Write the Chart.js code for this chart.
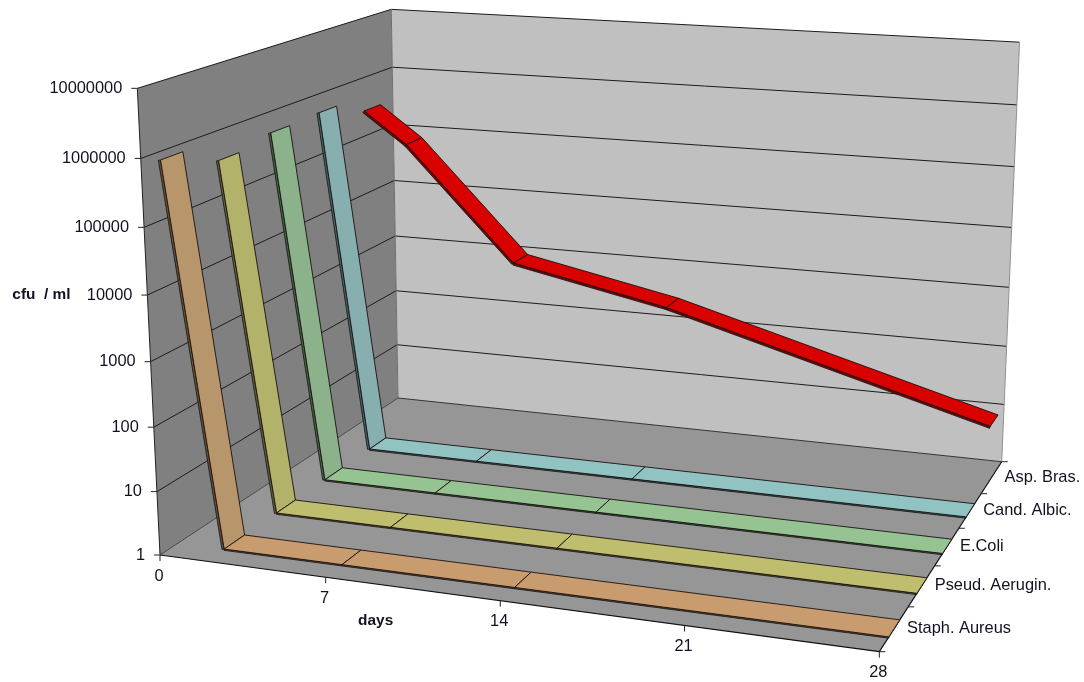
<!DOCTYPE html>
<html><head><meta charset="utf-8">
<style>html,body{margin:0;padding:0;background:#fff}canvas{display:block}</style>
<script src="https://cdn.jsdelivr.net/npm/chart.js@4"></script>
</head><body><canvas id="c" width="1084" height="682"></canvas>
<script>
const days = [0, 2, 7, 14, 28];
const staphAureus = [750000, 1, 1, 1, 1];
const pseudAerugin = [350000, 1, 1, 1, 1];
const eColi = [460000, 1, 1, 1, 1];
const candAlbic = [490000, 1, 1, 1, 1];
const aspBras = [270000, 80000, 1000, 290, 9.3];
const seriesNames = ['Staph. Aureus', 'Pseud. Aerugin.', 'E.Coli', 'Cand. Albic.', 'Asp. Bras.'];
const dayTicks = [0, 7, 14, 21, 28];
const valueTicks = [1, 10, 100, 1000, 10000, 100000, 1000000, 10000000];
const seriesValues = [staphAureus, pseudAerugin, eColi, candAlbic, aspBras];
const flatColors = ['#c89c6e', '#bebe6e', '#96c392', '#92c3c3', '#d90000'];
const dropColors = ['#b8966c', '#b2b26a', '#8cb28c', '#88afaf', '#d90000'];
const faceColors = ['#6a5238', '#62623a', '#456645', '#456666', '#7a0000'];

// perspective camera of the 3-D box: unit cube -> page pixels
const O = [160, 555], AX = [629.2, 29.9], AY = [-30.5, -471.7], AZ = [322.5, -72.5];
const P = -0.1025, Q = -0.057, R = 0.2123, KX = -7.4, KY = 3.5;
function proj(t, v, z) {
  const d = 1 + P * t + Q * v + R * z;
  return {
    x: (O[0] + AX[0] * t + AY[0] * v + AZ[0] * z) / d + KX * t * v * z,
    y: (O[1] + AX[1] * t + AY[1] * v + AZ[1] * z) / d + KY * t * v * z
  };
}
const T = d => d / 28;
const V = val => Math.log10(val) / 7;

const datasets = [];
function poly(points, fill, stroke, width) {
  const closed = fill ? points.concat([points[0]]) : points;
  datasets.push({
    data: closed, showLine: true, pointRadius: 0, pointHoverRadius: 0,
    fill: fill ? 'shape' : false, backgroundColor: fill || 'transparent',
    borderColor: stroke || 'transparent', borderWidth: stroke ? (width || 1) : 0,
    borderDash: [5000, 0], borderJoinStyle: 'round', clip: false
  });
}
// walls and floor
poly([proj(0,0,0), proj(0,1,0), proj(0,1,1), proj(0,0,1)], '#808080');
poly([proj(0,0,1), proj(0,1,1), proj(1,1,1), proj(1,0,1)], '#c0c0c0');
poly([proj(0,0,0), proj(0,0,1), proj(1,0,1), proj(1,0,0)], '#969696');
// wall gridlines
valueTicks.forEach((val, i) => {
  if (i === 0) return;
  poly([proj(0,V(val),0), proj(0,V(val),1), proj(1,V(val),1)], null, '#1c1c1c', 1);
});
// box edges
poly([proj(0,0,1), proj(0,1,1)], null, '#6e6e6e', 1);
poly([proj(1,0,1), proj(1,1,1)], null, '#909090', 1);
poly([proj(0,0,1), proj(1,0,1)], null, '#333', 1);
poly([proj(0,0,0), proj(0,0,1)], null, '#444', 1);
poly([proj(0,0,0), proj(1,0,0)], null, '#111', 1.2);
poly([proj(1,0,0), proj(1,0,1)], null, '#111', 1.2);
poly([proj(0,0,0), proj(0,1,0)], null, '#222', 1);
// axis ticks
valueTicks.forEach(val => {
  const a = proj(0, V(val), 0);
  poly([a, {x: a.x - 6, y: a.y}], null, '#222', 1);
});
dayTicks.forEach(d => {
  const a = proj(T(d), 0, 0);
  poly([a, {x: a.x, y: a.y + 6}], null, '#222', 1);
});
seriesNames.concat(['']).forEach((n, i) => {
  const a = proj(1, 0, i / 5);
  poly([a, {x: a.x + 6, y: a.y}], null, '#222', 1);
});
// ribbons, back to front
for (let s = seriesValues.length - 1; s >= 0; s--) {
  const zf = (s + 0.32) / 5, zb = (s + 0.70) / 5, vals = seriesValues[s];
  for (let i = 0; i < days.length - 1; i++) {
    const t1 = T(days[i]), t2 = T(days[i + 1]), v1 = V(vals[i]), v2 = V(vals[i + 1]);
    const a = proj(t1, v1, zf), b = proj(t2, v2, zf);
    const len = Math.hypot(b.x - a.x, b.y - a.y);
    const th = (v1 === 0 && v2 === 0) ? 1.3 : 2.2;
    let nx = (b.y - a.y) / len, ny = -(b.x - a.x) / len;
    if (ny < 0) { nx = -nx; ny = -ny; }
    const off = p => ({x: p.x + nx * th, y: p.y + ny * th});
    poly([a, b, off(b), off(a)], faceColors[s], '#111', 0.8);
    poly([a, b, proj(t2, v2, zb), proj(t1, v1, zb)], i === 0 ? dropColors[s] : flatColors[s], '#1a1010', 0.9);
  }
}
datasets.forEach((d, i) => { d.order = datasets.length - i; });

const textPlugin = {
  id: 'boxText',
  afterDatasetsDraw(chart) {
    const ctx = chart.ctx, sx = chart.scales.x, sy = chart.scales.y;
    const put = (txt, p, dx, dy, align, font) => {
      ctx.font = font; ctx.textAlign = align; ctx.textBaseline = 'middle';
      ctx.fillStyle = '#111122';
      ctx.fillText(txt, sx.getPixelForValue(p.x) + dx, sy.getPixelForValue(p.y) + dy);
    };
    const reg = '16.4px "Liberation Sans", Arial, sans-serif';
    const bold = 'bold 15.4px "Liberation Sans", Arial, sans-serif';
    ctx.save();
    valueTicks.forEach(val => put(String(val), proj(0, V(val), 0), -15, 0, 'right', reg));
    dayTicks.forEach(d => put(String(d), proj(T(d), 0, 0), -1, 21, 'center', reg));
    seriesNames.forEach((n, i) => put(n, proj(1, 0, (i + 0.5) / 5), 13, 0, 'left', reg));
    put('days', proj(T(7), 0, 0), 50, 43, 'center', bold);
    put('cfu  / ml', proj(0, V(10000), 0), -135, 0, 'left', bold);
    ctx.restore();
  }
};

new Chart(document.getElementById('c'), {
  type: 'scatter',
  data: { datasets },
  plugins: [textPlugin],
  options: {
    responsive: false, animation: false, events: [],
    layout: { padding: 0 },
    plugins: { legend: { display: false }, tooltip: { enabled: false }, title: { display: false } },
    scales: {
      x: { type: 'linear', min: 0, max: 1084, display: false },
      y: { type: 'linear', min: 0, max: 682, reverse: true, display: false }
    }
  }
});
</script></body></html>
